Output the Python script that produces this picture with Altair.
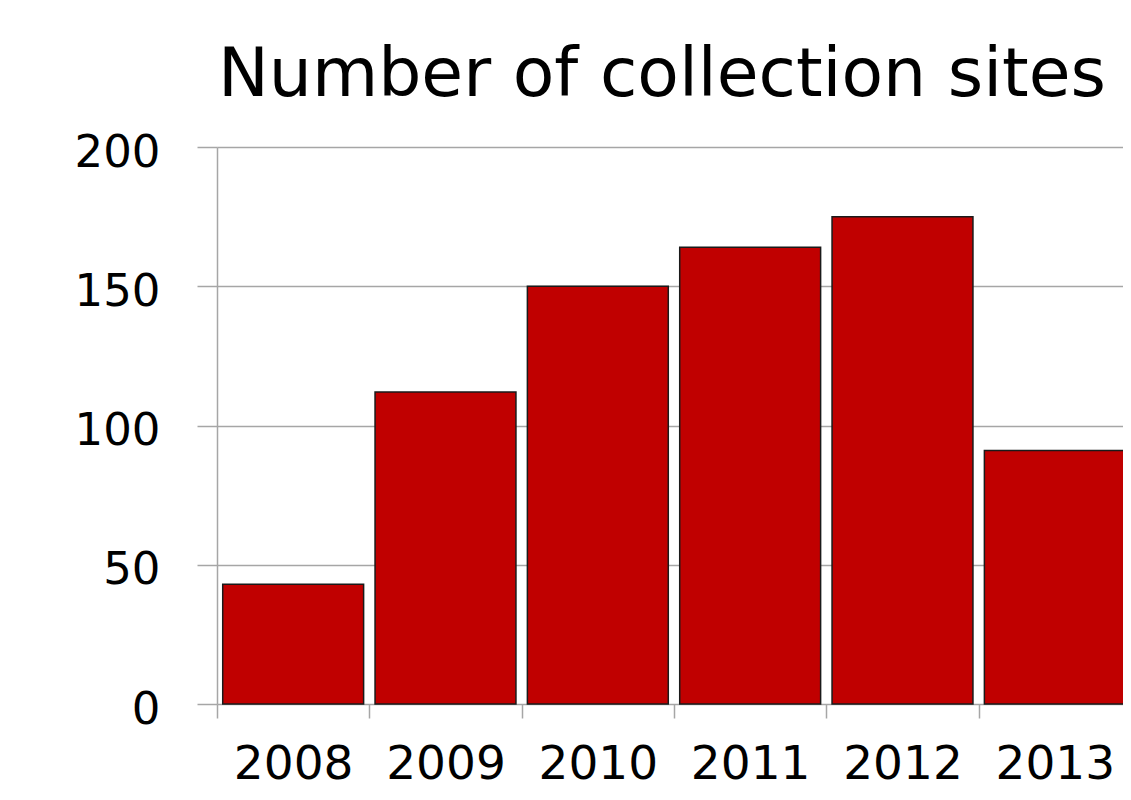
import altair as alt
import pandas as pd

years = ["2008", "2009", "2010", "2011", "2012", "2013"]
sites = [43, 112, 150, 164, 175, 91]

df = pd.DataFrame({"year": years, "sites": sites})

FONT = "DejaVu Sans"
GRID = "#a6a6a6"

chart = alt.Chart(df).mark_bar(
    color="#c00000", stroke="#1a1a1a", strokeWidth=1.5,
    width=alt.RelativeBandSize(0.925)
).encode(
    x=alt.X("year:N", sort=years, title=None,
            scale=alt.Scale(paddingInner=0, paddingOuter=0),
            axis=alt.Axis(labelAngle=0, labelFont=FONT, labelFontSize=47,
                          labelColor="#000000", labelPadding=23,
                          domain=False, grid=False, ticks=True, tickBand="extent",
                          tickSize=14, tickColor=GRID, tickWidth=1.5)),
    y=alt.Y("sites:Q", title=None,
            scale=alt.Scale(domain=[0, 200], nice=False),
            axis=alt.Axis(values=[0, 50, 100, 150, 200], labelFont=FONT,
                          labelFontSize=45, labelColor="#000000", labelPadding=37,
                          labelOffset=5,
                          domain=True, domainColor=GRID, domainWidth=1.5,
                          grid=True, gridColor=GRID, gridWidth=1.5,
                          ticks=True, tickSize=20, tickColor=GRID, tickWidth=1.5)),
).properties(
    width=914,
    height=557,
    title=alt.TitleParams("Number of collection sites", font=FONT, fontSize=68,
                          fontWeight="normal", color="#000000", anchor="middle",
                          frame="group", baseline="alphabetic", offset=47, dx=-12,
                          dy=81),
    autosize=alt.AutoSizeParams(type="none"),
    padding={"left": 209, "top": 139, "right": -8, "bottom": 88},
).configure_view(stroke=None)

chart.save("out.html", embed_options={"renderer": "svg", "actions": False})
